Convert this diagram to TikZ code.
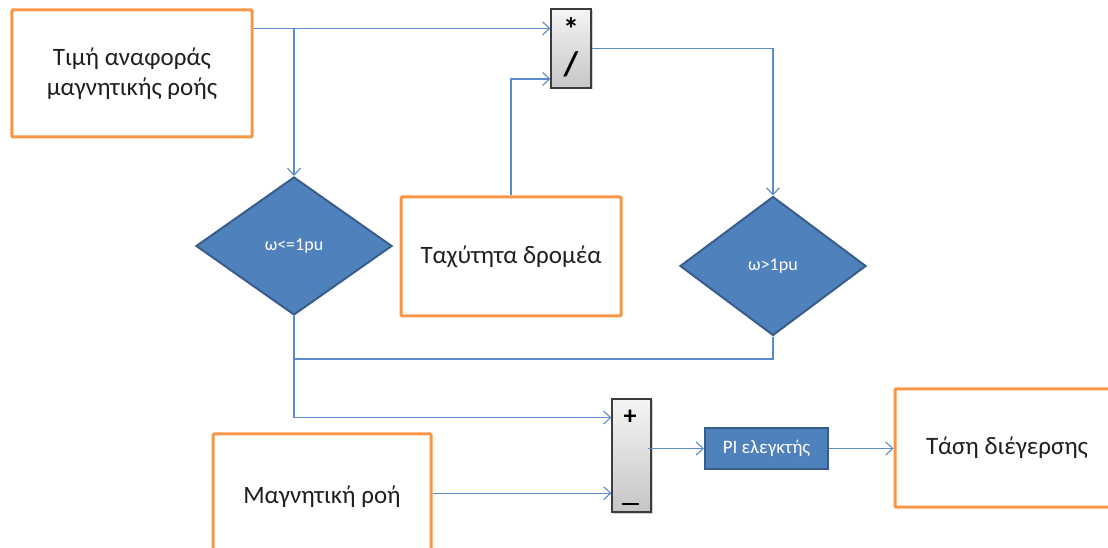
\documentclass[tikz,border=0pt]{standalone}
\usepackage{fontspec}
\setmainfont{Carlito}
\usetikzlibrary{shapes.geometric,arrows.meta,calc,shadows}

\definecolor{wire}{HTML}{5B8BCB}
\definecolor{frameorange}{HTML}{F79646}
\definecolor{decfill}{HTML}{4F81BD}
\definecolor{decedge}{HTML}{385D8A}
\definecolor{blockedge}{HTML}{3C3C3C}

\tikzset{
  ioblock/.style={draw=frameorange, line width=3bp, fill=white, rounded corners=1bp,
    align=center, inner sep=0pt, text=black!88, font=\fontsize{25bp}{30bp}\selectfont},
  decision/.style={diamond, draw=decedge, line width=2bp, fill=decfill, inner sep=0pt,
    text=white, font=\fontsize{18bp}{20bp}\selectfont},
  opblock/.style={draw=blockedge, line width=1.2bp, top color=gray!8, bottom color=gray!45,
    inner sep=0pt, drop shadow={shadow xshift=1.5bp, shadow yshift=-1.5bp, opacity=.35}},
  ctrlblock/.style={draw=decedge, line width=2bp, fill=decfill, inner sep=0pt,
    text=white, font=\fontsize{19bp}{22bp}\selectfont},
  sign/.style={inner sep=0pt, text=black, font=\bfseries\fontsize{26bp}{26bp}\selectfont},
  wireline/.style={draw=wire, line width=1.1bp},
  arr/.style={wireline, -{Straight Barb[length=7bp,width=13bp,line width=1.1bp]}}
}

\begin{document}
\begin{tikzpicture}[x=1bp,y=-1bp]
\useasboundingbox (0,0) rectangle (1108,548);
\clip (0,0) rectangle (1108,548);

% input blocks
\node[ioblock, minimum width=240bp, minimum height=127bp] (ref) at (132,73.5)
  {Τιμή αναφοράς\\μαγνητικής ροής};
\node[ioblock, minimum width=220bp, minimum height=119bp] (speed) at (511,256.5)
  {Ταχύτητα δρομέα};
\node[ioblock, minimum width=218bp, minimum height=126bp] (flux) at (322,497)
  {Μαγνητική ροή};
\node[ioblock, minimum width=224bp, minimum height=118bp] (volt) at (1007,448)
  {Τάση διέγερσης};

% multiply / divide block
\node[opblock, minimum width=40bp, minimum height=79bp] (mul) at (571,48.5) {};
\node[sign, font=\bfseries\fontsize{32bp}{32bp}\selectfont] (mulstar) at (571,29) {*};
\node[sign, font=\bfseries\fontsize{34bp}{34bp}\selectfont] (mulslash) at (571,64) {/};

% speed decisions
\node[decision, minimum width=196bp, minimum height=138bp] (d1) at (294,246) {ω<=1pu};
\node[decision, minimum width=186bp, minimum height=139bp] (d2) at (773,266) {ω>1pu};

% summing block
\node[opblock, minimum width=39bp, minimum height=113bp] (sum) at (631.5,455.5) {};
\node[sign] (plus) at (630,417) {+};
\node[sign] (minus) at (630,504) {\rule{17bp}{2.4bp}};

% controller
\node[ctrlblock, minimum width=123bp, minimum height=41bp] (pi) at (766.5,448.5) {PI ελεγκτής};

% input points
\coordinate (m1) at ($(mul.north west)!0.25!(mul.south west)$);
\coordinate (m2) at ($(mul.north west)!0.88!(mul.south west)$);
\coordinate (s1) at ($(sum.north west)!0.168!(sum.south west)$);
\coordinate (s2) at ($(sum.north west)!0.83!(sum.south west)$);
\coordinate (j1) at (d1.north |- m1);
\path (d1.south) ++(0,43) coordinate (j2);
\coordinate (so) at ($(pi.west -| sum.east)+(-4,0)$);

% connectors
\draw[arr] (ref.east |- m1) -- (m1);
\draw[arr] (j1) -- (d1.north);
\draw[arr] (speed.north) |- (m2);
\draw[arr] (mul.east) -| (d2.north);
\draw[wireline] (d2.south) |- (j2);
\draw[arr] (d1.south) |- (s1);
\draw[arr] (flux.east |- s2) -- (s2);
\draw[arr] (so) -- (pi.west);
\draw[arr] (pi.east) -- (pi.east -| volt.west);
\end{tikzpicture}
\end{document}
